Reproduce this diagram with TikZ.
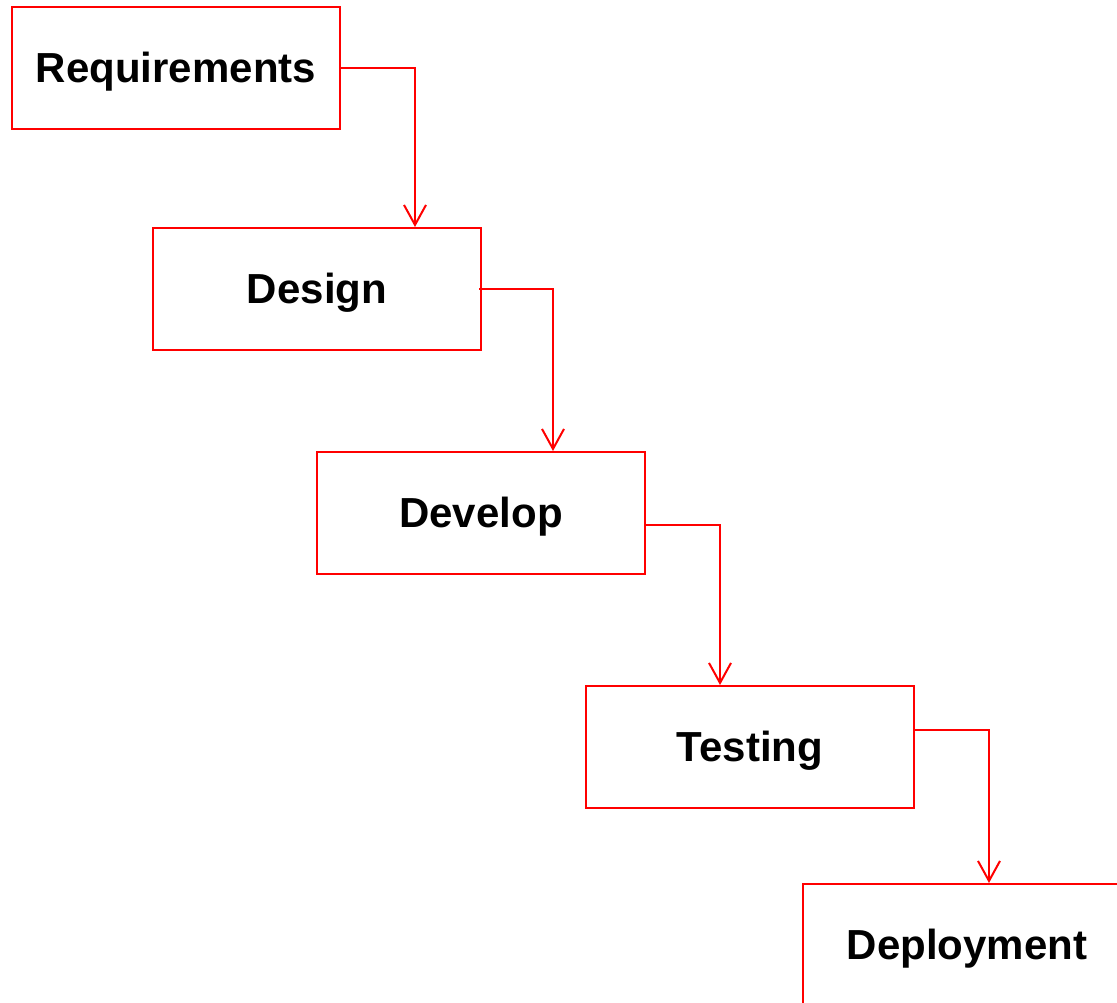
\documentclass[tikz,border=0pt]{standalone}
\usepackage{fontspec}
\setmainfont{Liberation Sans}
\usetikzlibrary{arrows.meta}
\definecolor{boxred}{RGB}{255,0,0}
\tikzset{
  phase/.style={draw=boxred, line width=2pt, rectangle, minimum width=328pt, minimum height=122pt,
    inner sep=0pt, text height=30pt, text depth=2pt, font=\fontsize{42}{48}\selectfont\bfseries, text=black},
  link/.style={draw=boxred, line width=2pt, -{Straight Barb[length=20pt,width=22pt,line width=2pt]}}
}
\begin{document}
\begin{tikzpicture}[x=1pt,y=-1pt]
\useasboundingbox (0,0) rectangle (1117,1002);
\clip (0,0) rectangle (1117,1002);
\node[phase] (req) at (176,68) {Requirements};
\node[phase] (des) at (317,289) {Design};
\node[phase] (dev) at (481,513) {Develop};
\node[phase] (tst) at (750,747) {Testing};
\node[phase] (dep) at (967,945) {Deployment};
\coordinate (r1) at (415,68);
\coordinate (d1s) at (479,289);
\coordinate (d1) at (553,289);
\coordinate (v0) at (645,525);
\coordinate (v1) at (720,525);
\coordinate (t0) at (914,730);
\coordinate (t1) at (989,730);
\draw[link] (req.east) -- (r1) -- (r1 |- des.north);
\draw[link] (d1s) -- (d1) -- (d1 |- dev.north);
\draw[link] (v0) -- (v1) -- (v1 |- tst.north);
\draw[link] (t0) -- (t1) -- (t1 |- dep.north);
\end{tikzpicture}
\end{document}
